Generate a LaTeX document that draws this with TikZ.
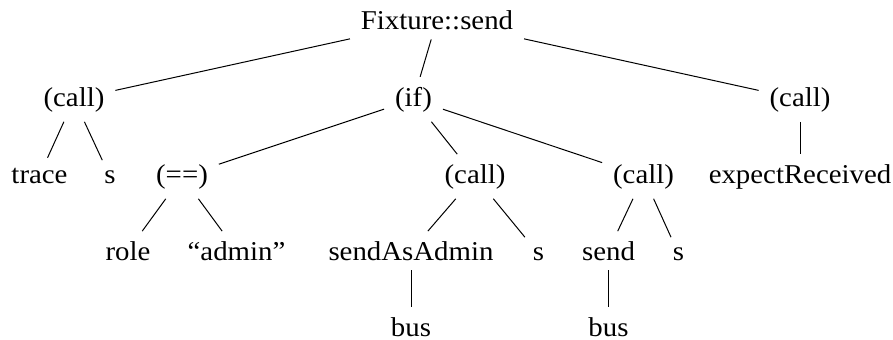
\documentclass[tikz,border=0pt]{standalone}
\usepackage{fontspec}
\setmainfont{Liberation Serif}[FakeStretch=1.06]
\newcommand{\treefont}{\fontsize{13.6}{16}\selectfont}
\begin{document}
\begin{tikzpicture}[x=0.5pt,y=-0.5pt,
  tn/.style={anchor=base, inner xsep=5.5pt, inner ysep=5pt, outer sep=0pt,
             font=\treefont},
  edge/.style={line width=0.5pt}]
\useasboundingbox (0,0) rectangle (893,339);
% tree nodes, placed by baseline
\node[tn] (root)  at (437,29)    {Fixture::send};
\node[tn] (c1)    at (74,106)    {(call)};
\node[tn] (if)    at (413.5,106) {(if)};
\node[tn] (c2)    at (800,106)   {(call)};
\node[tn] (trace) at (39.5,183)  {trace};
\node[tn] (s1)    at (110,183)   {s};
\node[tn] (eq)    at (182,183)   {(==)};
\node[tn] (c3)    at (475,183)   {(call)};
\node[tn] (c4)    at (643.5,183) {(call)};
\node[tn] (exp)   at (800,183)   {expectReceived};
\node[tn] (role)  at (128,260)   {role};
\node[tn] (admin) at (236.5,260) {“admin”};
\node[tn] (saa)   at (411,260)   {sendAsAdmin};
\node[tn] (s2)    at (538.5,260) {s};
\node[tn] (send)  at (608.5,260) {send};
\node[tn] (s3)    at (678.5,260) {s};
\node[tn] (bus1)  at (411,336)   {bus};
\node[tn] (bus2)  at (608.5,336) {bus};
% branches
\draw[edge] (root) -- (c1);
\draw[edge] (root) -- (if);
\draw[edge] (root) -- (c2);
\draw[edge] (c1) -- (trace);
\draw[edge] (c1) -- (s1);
\draw[edge] (if) -- (eq);
\draw[edge] (if) -- (c3);
\draw[edge] (if) -- (c4);
\draw[edge] (c2) -- (exp);
\draw[edge] (eq) -- (role);
\draw[edge] (eq) -- (admin);
\draw[edge] (c3) -- (saa);
\draw[edge] (c3) -- (s2);
\draw[edge] (c4) -- (send);
\draw[edge] (c4) -- (s3);
\draw[edge] (saa) -- (bus1);
\draw[edge] (send) -- (bus2);
\end{tikzpicture}
\end{document}
